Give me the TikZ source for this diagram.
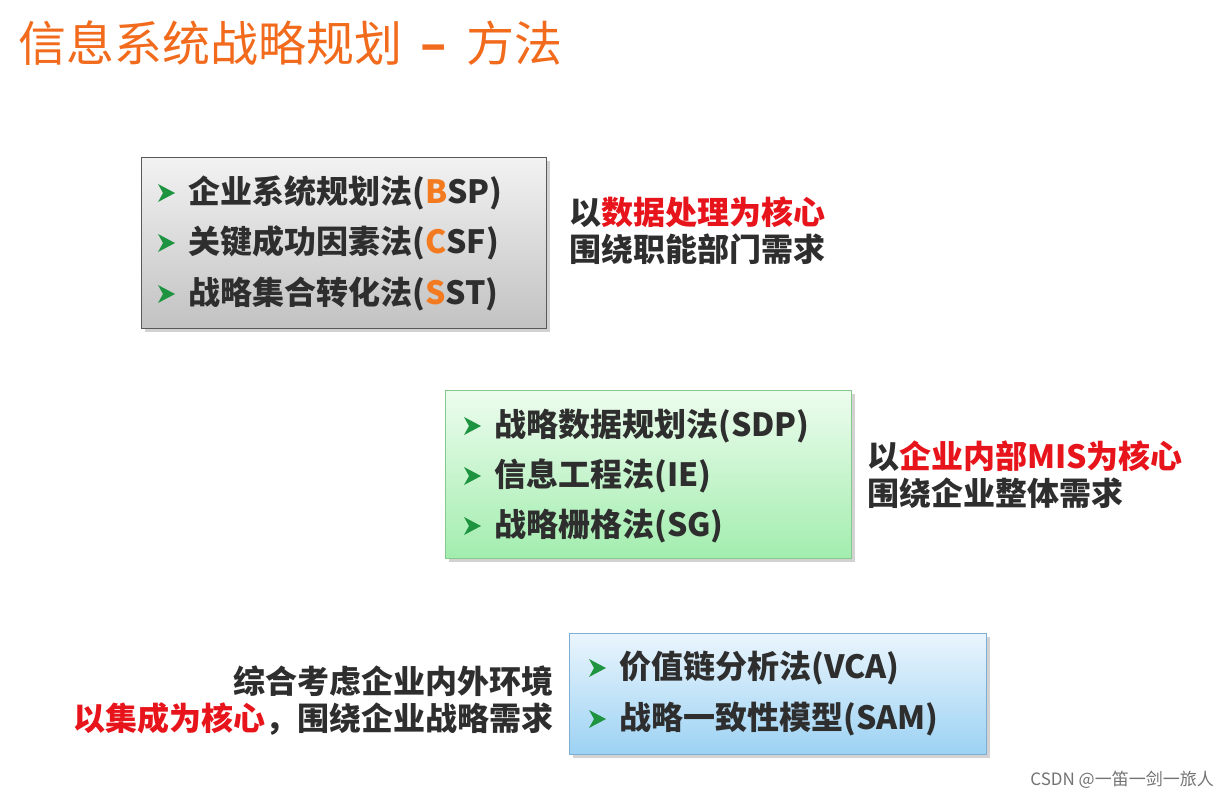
\documentclass[tikz,border=0pt]{standalone}
\usepackage{fontspec}
\setmainfont{Noto Sans CJK SC}
\usetikzlibrary{shadows}
\definecolor{titleorange}{HTML}{F26B1D}
\definecolor{itemdark}{HTML}{2E2E2E}
\definecolor{keyred}{HTML}{E8141C}
\definecolor{bulletgreen}{HTML}{1E9440}
\definecolor{letterorange}{HTML}{F47A20}
\definecolor{skytop}{HTML}{EAF5FD}
\definecolor{skybottom}{HTML}{9CD2F3}
\definecolor{skyline}{HTML}{7FAED2}
\definecolor{minttop}{HTML}{EDFCEE}
\definecolor{mintbottom}{HTML}{A2EDAE}
\definecolor{mintline}{HTML}{86C98E}
\tikzset{
  methodbox/.style={draw, line width=1.2pt, anchor=north west, inner sep=0pt,
    drop shadow={shadow xshift=3pt, shadow yshift=-3pt, opacity=.35}},
  item/.style={anchor=west, inner sep=0pt, text=itemdark, font=\fontsize{32}{36}\selectfont\bfseries},
  note/.style={inner sep=0pt, text=itemdark, align=left, font=\fontsize{32}{37}\selectfont\bfseries},
}
\newcommand{\MethodItem}[4]{%
  \fill[bulletgreen] (#1-8,#2-9) -- (#1+9,#2) -- (#1-8,#2+9) -- (#1-3,#2) -- cycle;
  \node[item] (#3) at (#1+22,#2) {#4};
}
\newcommand{\Key}[1]{\textcolor{letterorange}{#1}}

\begin{document}
\begin{tikzpicture}[x=1pt,y=-1pt]
    \useasboundingbox[fill=white] (0,0) rectangle (1229,800);
    \node[anchor=west, inner sep=0pt, text=titleorange, font=\fontsize{48}{52}\selectfont]
      (title) at (18,43) {信息系统战略规划 \,\textbf{–}\, 方法};
    % boxes
    \node[methodbox, draw=black!65, top color=black!5, bottom color=black!24,
      minimum width=405, minimum height=171] (boxA) at (141,157) {};
    \node[methodbox, draw=mintline, top color=minttop, bottom color=mintbottom,
      minimum width=406, minimum height=168] (boxB) at (445,390) {};
    \node[methodbox, draw=skyline, top color=skytop, bottom color=skybottom,
      minimum width=417, minimum height=121] (boxC) at (569,633) {};
    \MethodItem{166}{193}{bsp}{企业系统规划法(\Key{B}SP)}
    \MethodItem{166}{243}{csf}{关键成功因素法(\Key{C}SF)}
    \MethodItem{166}{294}{sst}{战略集合转化法(\Key{S}ST)}
    \MethodItem{472}{426}{sdp}{战略数据规划法(SDP)}
    \MethodItem{472}{476}{ie}{信息工程法(IE)}
    \MethodItem{472}{526}{sg}{战略栅格法(SG)}
    \MethodItem{597}{668}{vca}{价值链分析法(VCA)}
    \MethodItem{597}{719}{sam}{战略一致性模型(SAM)}
    % notes
    \node[note, anchor=west] (noteA) at (569,231)
      {以\textcolor{keyred}{数据处理为核心}\\围绕职能部门需求};
    \node[note, anchor=west] (noteB) at (867,475)
      {以\textcolor{keyred}{企业内部MIS为核心}\\围绕企业整体需求};
    \node[note, anchor=east, align=right] (noteC) at (554,701)
      {综合考虑企业内外环境\\\textcolor{keyred}{以集成为核心}，围绕企业战略需求};
    \node[anchor=east, inner sep=0pt, text=black!55, font=\fontsize{17}{20}\selectfont]
      (mark) at (1214,780) {CSDN @一笛一剑一旅人};
  \end{tikzpicture}
\end{document}
